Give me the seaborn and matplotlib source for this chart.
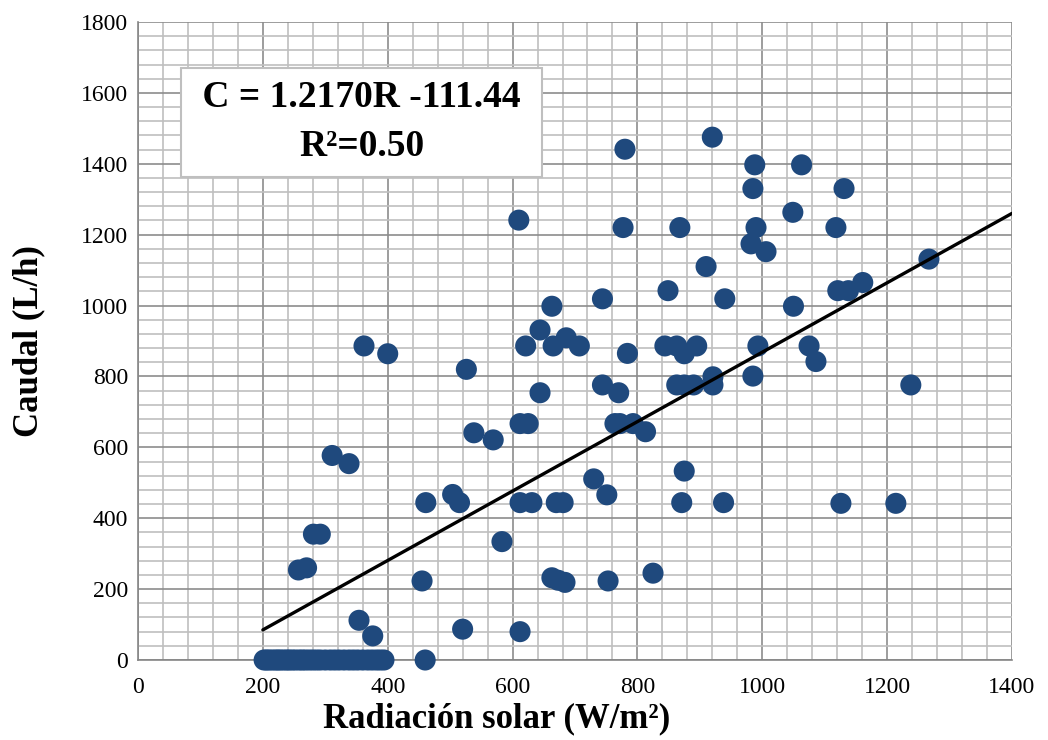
import numpy as np
import pandas as pd
import seaborn as sns
import matplotlib.pyplot as plt
from matplotlib.ticker import MultipleLocator

# Radiation (W/m2) and flow (L/h)
zero_rad = [202, 206, 210, 215, 220, 224, 228, 233, 238, 242, 247, 252, 258, 263,
            268, 274, 280, 286, 292, 300, 308, 315, 322, 330, 338, 345, 352, 360,
            368, 375, 382, 388, 394, 460]
zero_flow = [0] * len(zero_rad)

low_rad = [362, 400, 526, 538, 569, 311, 338, 461, 504, 515, 583, 281, 292, 257,
           270, 455, 354, 376, 520, 612]
low_flow = [886, 864, 820, 641, 621, 577, 554, 444, 467, 444, 334, 355, 355, 254,
            260, 223, 112, 68, 87, 80]

high_rad = [920, 780, 988, 1063, 985, 1131, 610, 777, 868, 990, 1118, 1049, 982,
            1006, 910, 849, 940, 744, 663, 1050, 644, 621, 665, 686, 707, 784, 844,
            863, 875, 895, 993, 985, 644, 744, 770, 863, 875, 890, 921, 921, 1121,
            1138, 1161, 1267, 1075, 1086, 1238]
high_flow = [1475, 1441, 1397, 1397, 1330, 1330, 1241, 1220, 1220, 1220, 1220, 1263,
             1174, 1152, 1110, 1042, 1019, 1019, 998, 998, 931, 886, 886, 909, 886,
             865, 886, 886, 864, 886, 886, 801, 754, 776, 754, 776, 776, 776, 799,
             776, 1042, 1042, 1065, 1131, 886, 842, 776]

mid_rad = [612, 625, 764, 772, 793, 813, 875, 730, 751, 612, 631, 670, 681, 871,
           938, 663, 673, 684, 753, 825, 1126, 1214]
mid_flow = [667, 667, 667, 667, 667, 644, 533, 511, 466, 444, 444, 444, 444, 444,
            444, 232, 225, 219, 223, 245, 442, 442]

# trend line as drawn
line_x = [200, 1400]
line_y = [85, 1260]

df = pd.DataFrame({
    'rad': zero_rad + low_rad + high_rad + mid_rad,
    'flow': zero_flow + low_flow + high_flow + mid_flow,
})

sns.set_style('white')
plt.rcParams['font.family'] = ['Liberation Serif', 'DejaVu Serif']
plt.rcParams['text.color'] = 'black'
plt.rcParams['axes.labelcolor'] = 'black'

fig = plt.figure(figsize=(10.48, 7.40), dpi=100)
ax = fig.add_axes([0.1317, 0.1081, 0.8339, 0.8622])

sns.scatterplot(data=df, x='rad', y='flow', ax=ax, s=230, color='#1F497D',
                edgecolor='none', linewidth=0, zorder=3, clip_on=False)
sns.lineplot(x=line_x, y=line_y, ax=ax, color='black', linewidth=2.4, zorder=4)

ax.set_xlim(0, 1400)
ax.set_ylim(0, 1800)
ax.xaxis.set_major_locator(MultipleLocator(200))
ax.yaxis.set_major_locator(MultipleLocator(200))
ax.xaxis.set_minor_locator(MultipleLocator(40))
ax.yaxis.set_minor_locator(MultipleLocator(40))
ax.grid(which='minor', color='#bfbfbf', linewidth=1.2, zorder=0)
ax.grid(which='major', color='#8c8c8c', linewidth=1.2, zorder=1)
ax.set_axisbelow(True)

for side in ['top', 'right']:
    ax.spines[side].set_visible(False)
for side in ['left', 'bottom']:
    ax.spines[side].set_color('#868686')
    ax.spines[side].set_linewidth(1.2)

ax.tick_params(which='major', direction='out', length=6, width=1.2, color='#868686',
               labelsize=17, labelcolor='black')
ax.tick_params(which='minor', length=0)
ax.tick_params(axis='x', pad=6)
ax.tick_params(axis='y', pad=1)

ax.set_xlabel('Radiación solar (W/m²)', fontsize=25, fontweight='bold', va='top')
ax.xaxis.set_label_coords(0.41, -0.066)
ax.set_ylabel('Caudal (L/h)', fontsize=25, fontweight='bold', labelpad=26)

ax.text(0.2557, 0.843, ' C = 1.2170R -111.44 \nR²=0.50', transform=ax.transAxes,
        ha='center', va='center', fontsize=27, fontweight='bold', linespacing=1.52,
        zorder=5,
        bbox=dict(boxstyle='square,pad=0.33', facecolor='white', edgecolor='#bfbfbf',
                  linewidth=1.5))

fig.savefig('out.png', dpi=100)
